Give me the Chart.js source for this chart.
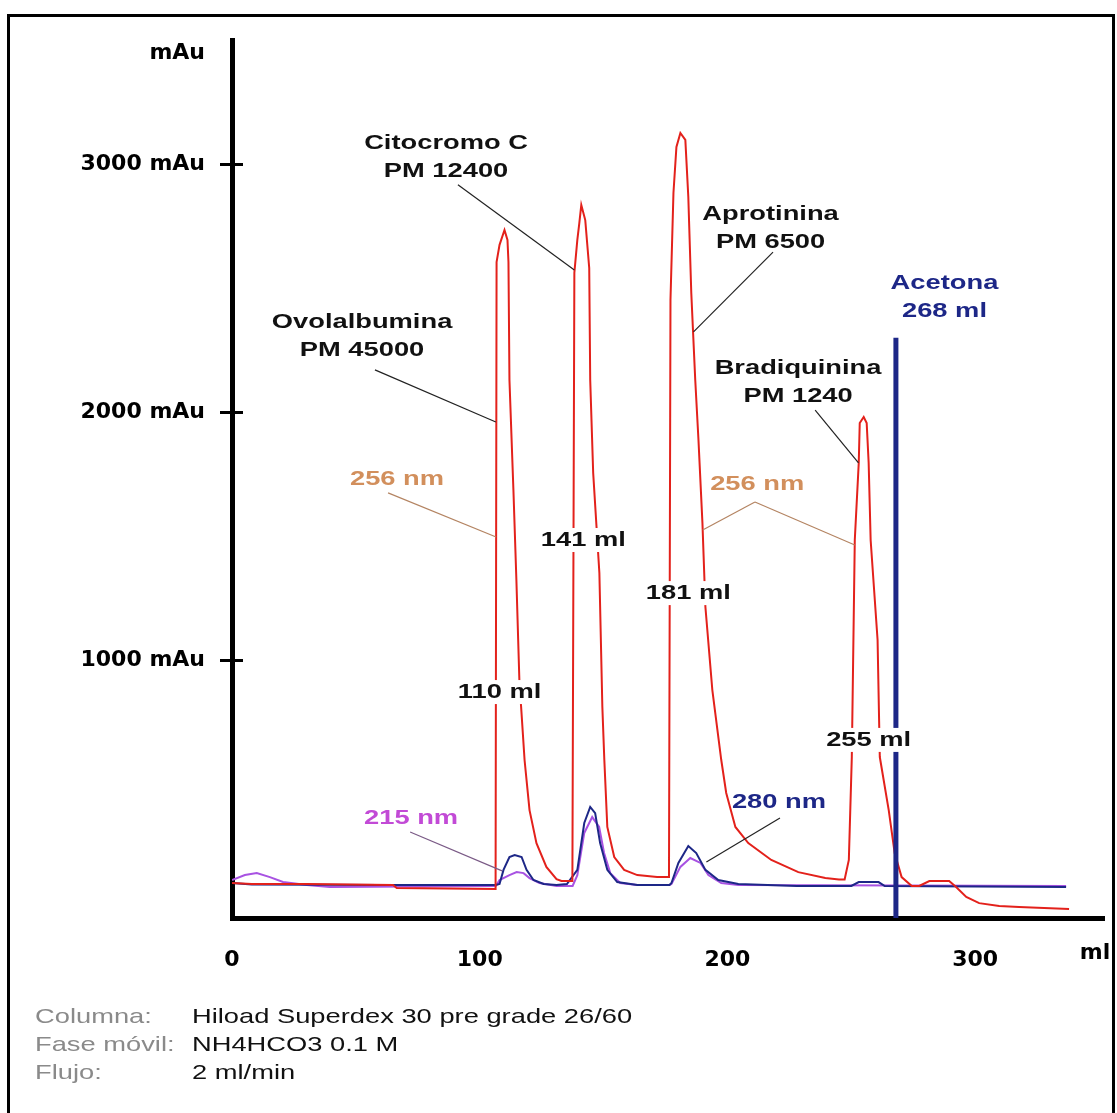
<!DOCTYPE html>
<html>
<head>
<meta charset="utf-8">
<title>Superdex 30 - patrones de calibrado</title>
<script src="https://cdn.jsdelivr.net/npm/chart.js@4.4.1/dist/chart.umd.min.js"></script>
<style>
  html, body { margin: 0; padding: 0; background: #fff; }
  canvas { display: block; }
</style>
</head>
<body>
<canvas id="cromatograma" width="1117" height="1113"></canvas>
<script>
// Ejes
const xTicks = [0, 100, 200, 300];
const yTicks = [1000, 2000, 3000];

// Traza a 256 nm (roja): volumen de elución (ml) y absorbancia (mAu)
const ml256 = [0, 8, 30, 65, 66.5, 106.4, 106.8, 108, 110, 111.2, 111.6, 112, 113.6, 114.8, 116, 118.1, 120.1, 122.9, 126.9, 131,
  133, 136, 137.4, 138.2, 139.4, 140.2, 141, 142.6, 144.2, 144.6, 145.8, 148.3, 149.5, 150.3, 151.5, 154.3, 158.3, 163.6, 171.6, 176.4,
  177, 178.2, 179.4, 181, 183, 184.2, 185.4, 187, 188.3, 189.9, 191.1, 193.9, 197.5, 199.5, 203.2, 208.4, 217.7, 228.6, 239.5, 245,
  247.3, 249, 250.2, 251.4, 253, 253.4, 255, 256.2, 257, 257.8, 260.6, 261.5, 265.1, 267.5, 270.3, 274.4, 277.4, 281.5, 289.5, 292.3,
  296.4, 301.6, 309.7, 317.7, 337.9];
const mau256 = [101, 97, 97, 93, 81, 77, 2605, 2674, 2734, 2694, 2605, 2129, 1686, 1323, 920, 597, 395, 262, 166, 117,
  109, 109, 109, 2561, 2694, 2762, 2835, 2774, 2581, 2129, 1754, 1351, 811, 597, 327, 206, 154, 133, 125, 125,
  2452, 2883, 3069, 3125, 3097, 2867, 2480, 2129, 1887, 1553, 1214, 879, 597, 464, 327, 262, 194, 145, 121, 115,
  115, 194, 609, 1484, 1795, 1956, 1980, 1956, 1795, 1484, 1081, 609, 395, 222, 125, 89, 89, 109, 109, 85,
  45, 20, 8, 4, -4];

// Traza a 280 nm (azul)
const ml280 = [0, 8, 60, 106.5, 108, 109.6, 112, 114.1, 116.9, 118.9, 121.7, 125.8, 131, 135.2, 139.4, 142.2, 144.6, 146.6,
  148.6, 151.5, 155.5, 163.6, 176.6, 177.4, 180.2, 184.2, 187.4, 191.1, 196.3, 204.4, 228, 250, 253, 261, 263.5, 336.7];
const mau280 = [101, 95, 93, 93, 97, 154, 206, 214, 206, 154, 113, 97, 93, 97, 154, 343, 408, 383,
  262, 154, 105, 93, 93, 101, 182, 250, 222, 154, 113, 97, 89, 89, 105, 105, 89, 85];

// Traza a 215 nm (violeta)
const ml215 = [0, 5.2, 10, 15.3, 20.6, 30.2, 39.5, 106.5, 108, 112, 114.9, 117.7, 120.1, 124.1, 131, 137.5, 139.4,
  142.2, 145.4, 148.2, 150.2, 152.7, 156.7, 163.6, 176.6, 177.4, 181, 185, 189.1, 192.3, 197.5, 204.4, 336.7];
const mau215 = [113, 133, 141, 125, 105, 93, 85, 89, 113, 133, 145, 141, 121, 101, 89, 89, 133,
  303, 367, 327, 222, 141, 101, 93, 93, 97, 166, 202, 182, 133, 101, 93, 89];

// Marcador de volumen total (acetona)
const acetonaMl = 268;
const acetonaTop = 2300;

const toPoints = (xs, ys) => xs.map((x, i) => ({ x: x, y: ys[i] }));

// Las letras de la figura original van ensanchadas en horizontal
const SX = 1.3;
const BOLD = 'bold 21px "Liberation Sans", Arial, sans-serif';
const PLAIN = '21px "Liberation Sans", Arial, sans-serif';
const AX_FONT = { family: 'DejaVu Sans', size: 22, weight: 'bold' };

const RED = '#e3211b';
const NAVY = '#1d2787';
const VIOLET = '#a852e2';
const TAN = '#d28f5c';

// Rótulos: posición en ml / mAu (primera línea), las siguientes bajan 28 px
const notes = [
  { lines: ['Ovolalbumina', 'PM 45000'], at: [52.5, 2363], color: '#111' },
  { lines: ['Citocromo C', 'PM 12400'], at: [86.4, 3085], color: '#111' },
  { lines: ['Aprotinina', 'PM 6500'], at: [217.4, 2799], color: '#111' },
  { lines: ['Bradiquinina', 'PM 1240'], at: [228.5, 2178], color: '#111' },
  { lines: ['Acetona', '268 ml'], at: [287.6, 2520], color: NAVY },
  { lines: ['256 nm'], at: [66.6, 1730], color: TAN },
  { lines: ['256 nm'], at: [212, 1710], color: TAN },
  { lines: ['215 nm'], at: [72.3, 363], color: '#c24ad6' },
  { lines: ['280 nm'], at: [220.8, 428], color: NAVY },
  { lines: ['110 ml'], at: [108, 871], color: '#111', bg: '#fff' },
  { lines: ['141 ml'], at: [141.8, 1484], color: '#111', bg: '#fff' },
  { lines: ['181 ml'], at: [184.2, 1270], color: '#111', bg: '#fff' },
  { lines: ['255 ml'], at: [257, 678], color: '#111', bg: '#fff' }
];

// Líneas de referencia de los rótulos hasta cada pico
const leaders = [
  { from: [57.7, 2170], to: [106.5, 1960], color: '#222' },
  { from: [91.2, 2916], to: [138.2, 2573], color: '#222' },
  { from: [218.4, 2645], to: [186.3, 2323], color: '#222' },
  { from: [235.4, 2008], to: [252.9, 1795], color: '#222' },
  { from: [63, 1674], to: [106.6, 1496], color: '#b48462' },
  { from: [211.1, 1637], to: [190, 1524], color: '#b48462' },
  { from: [211.1, 1637], to: [251.4, 1464], color: '#b48462' },
  { from: [71.9, 307], to: [109, 150], color: '#7a5a86' },
  { from: [221.2, 363], to: [191.5, 186], color: '#222' }
];

const footer = [
  ['Columna:', 'Hiload Superdex 30 pre grade 26/60'],
  ['Fase móvil:', 'NH4HCO3 0.1 M'],
  ['Flujo:', '2 ml/min']
];

function wideText(ctx, text, x, y, font, color, align, bg) {
  ctx.save();
  ctx.font = font;
  const w = ctx.measureText(text).width * SX;
  let left = x;
  if (align === 'center') left = x - w / 2;
  else if (align === 'right') left = x - w;
  if (bg) {
    ctx.fillStyle = bg;
    ctx.fillRect(left - 4, y - 12, w + 8, 24);
  }
  ctx.translate(left, y);
  ctx.scale(SX, 1);
  ctx.fillStyle = color;
  ctx.textAlign = 'left';
  ctx.textBaseline = 'middle';
  ctx.fillText(text, 0, 0);
  ctx.restore();
}

const decor = {
  id: 'decor',
  afterDatasetsDraw(chart) {
    const { ctx } = chart;
    const xs = chart.scales.x, ys = chart.scales.y;
    ctx.save();
    ctx.lineWidth = 1.2;
    leaders.forEach(l => {
      ctx.strokeStyle = l.color;
      ctx.beginPath();
      ctx.moveTo(xs.getPixelForValue(l.from[0]), ys.getPixelForValue(l.from[1]));
      ctx.lineTo(xs.getPixelForValue(l.to[0]), ys.getPixelForValue(l.to[1]));
      ctx.stroke();
    });
    ctx.restore();
    notes.forEach(n => {
      const cx = xs.getPixelForValue(n.at[0]);
      const cy = ys.getPixelForValue(n.at[1]);
      n.lines.forEach((t, i) => wideText(ctx, t, cx, cy + i * 28, BOLD, n.color, 'center', n.bg));
    });
  },
  afterDraw(chart) {
    const { ctx, chartArea } = chart;
    const ys = chart.scales.y;
    ctx.save();
    // marcas del eje Y que cruzan el eje
    ctx.strokeStyle = '#000';
    ctx.lineWidth = 3;
    ys.ticks.forEach(t => {
      const py = Math.round(ys.getPixelForValue(t.value)) + 0.5;
      ctx.beginPath();
      ctx.moveTo(chartArea.left, py);
      ctx.lineTo(chartArea.left + 11, py);
      ctx.stroke();
    });
    // unidades de los ejes
    ctx.font = 'bold 22px "DejaVu Sans"';
    ctx.fillStyle = '#000';
    ctx.textBaseline = 'middle';
    ctx.textAlign = 'right';
    ctx.fillText('mAu', chartArea.left - 27, 53);
    ctx.textAlign = 'center';
    ctx.fillText('ml', chartArea.right - 9, chartArea.bottom + 35);
    // marco
    ctx.lineWidth = 3;
    ctx.strokeRect(8.5, 15.5, 1105, 1110);
    ctx.restore();
    // condiciones de la cromatografía
    footer.forEach((row, i) => {
      const y = 1017 + i * 28;
      wideText(ctx, row[0], 35, y, PLAIN, '#8a8a8a', 'left');
      wideText(ctx, row[1], 192, y, PLAIN, '#111', 'left');
    });
  }
};

new Chart(document.getElementById('cromatograma'), {
  type: 'line',
  data: {
    datasets: [
      {
        label: 'Acetona',
        data: [{ x: acetonaMl, y: -40 }, { x: acetonaMl, y: acetonaTop }],
        borderColor: NAVY,
        borderWidth: 5,
        pointRadius: 0
      },
      {
        label: '256 nm',
        data: toPoints(ml256, mau256),
        borderColor: RED,
        borderWidth: 2,
        pointRadius: 0,
        tension: 0
      },
      {
        label: '280 nm',
        data: toPoints(ml280, mau280),
        borderColor: NAVY,
        borderWidth: 2,
        pointRadius: 0,
        tension: 0
      },
      {
        label: '215 nm',
        data: toPoints(ml215, mau215),
        borderColor: VIOLET,
        borderWidth: 2,
        pointRadius: 0,
        tension: 0
      }
    ]
  },
  options: {
    responsive: false,
    animation: false,
    events: [],
    layout: { padding: { left: 0, top: 40, right: 13, bottom: 0 } },
    scales: {
      x: {
        type: 'linear',
        min: 0,
        max: 352,
        afterFit: (scale) => { scale.height = 195; },
        afterBuildTicks: (axis) => { axis.ticks = xTicks.map(v => ({ value: v })); },
        grid: { display: false },
        border: { display: true, color: '#000', width: 5 },
        ticks: { font: AX_FONT, color: '#000', padding: 21, maxRotation: 0 }
      },
      y: {
        min: -40,
        max: 3500,
        afterFit: (scale) => { scale.width = 232; },
        afterBuildTicks: (axis) => { axis.ticks = yTicks.map(v => ({ value: v })); },
        grid: { display: true, drawOnChartArea: false, drawTicks: true, tickLength: 12, color: '#000', lineWidth: 3 },
        border: { display: true, color: '#000', width: 5 },
        ticks: {
          font: AX_FONT,
          color: '#000',
          padding: 15,
          callback: (v) => v + ' mAu'
        }
      }
    },
    plugins: {
      legend: { display: false },
      tooltip: { enabled: false }
    }
  },
  plugins: [decor]
});
</script>
</body>
</html>
